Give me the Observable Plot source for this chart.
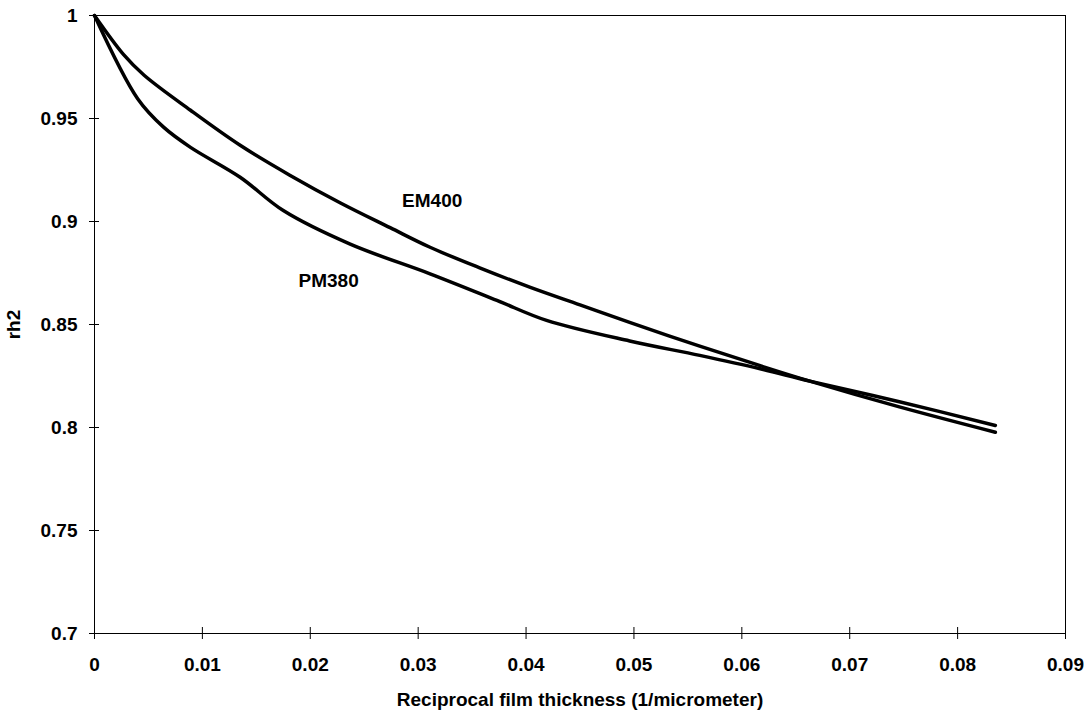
<!DOCTYPE html>
<html>
<head>
<meta charset="utf-8">
<script src="https://cdn.jsdelivr.net/npm/d3@7"></script>
<script src="https://cdn.jsdelivr.net/npm/@observablehq/plot@0.6"></script>
<style>
  html, body { margin: 0; padding: 0; background: #fff; }
  #chart { width: 1088px; height: 712px; }
</style>
</head>
<body>
<div id="chart"></div>
<script>
// Data
const emX = [0, 0.0027, 0.0046, 0.0089, 0.0135, 0.0181, 0.0228, 0.0274, 0.0311, 0.0357, 0.0404, 0.045, 0.0496, 0.0561, 0.0617, 0.0663, 0.0746, 0.0835];
const emY = [1, 0.981, 0.971, 0.954, 0.937, 0.9225, 0.909, 0.897, 0.8875, 0.8775, 0.868, 0.8595, 0.851, 0.8395, 0.830, 0.8225, 0.810, 0.7977];
const pmX = [0, 0.0040, 0.0064, 0.0089, 0.0135, 0.0175, 0.0237, 0.0311, 0.0373, 0.0419, 0.0496, 0.0561, 0.0617, 0.0663, 0.0746, 0.0835];
const pmY = [1, 0.9596, 0.9458, 0.936, 0.9215, 0.9053, 0.889, 0.8746, 0.8617, 0.852, 0.842, 0.835, 0.8285, 0.8225, 0.8125, 0.801];

const labelNames = ["EM400", "PM380"];
const labelX = [0.0313, 0.0217];
const labelY = [0.910, 0.871];

const xTicks = [0, 0.01, 0.02, 0.03, 0.04, 0.05, 0.06, 0.07, 0.08, 0.09];
const xTickLabels = ["0", "0.01", "0.02", "0.03", "0.04", "0.05", "0.06", "0.07", "0.08", "0.09"];
const yTicks = [0.7, 0.75, 0.8, 0.85, 0.9, 0.95, 1];
const yTickLabels = ["0.7", "0.75", "0.8", "0.85", "0.9", "0.95", "1"];

const xLabel = "Reciprocal film thickness (1/micrometer)";
const yLabel = "rh2";

const em = emX.map((x, i) => ({x, y: emY[i]}));
const pm = pmX.map((x, i) => ({x, y: pmY[i]}));
const labels = labelNames.map((name, i) => ({name, x: labelX[i], y: labelY[i]}));

const fmtX = (d) => xTickLabels[xTicks.findIndex(t => Math.abs(t - d) < 1e-9)];
const fmtY = (d) => yTickLabels[yTicks.findIndex(t => Math.abs(t - d) < 1e-9)];

const chart = Plot.plot({
  width: 1088,
  height: 712,
  marginLeft: 94,
  marginRight: 23,
  marginTop: 15,
  marginBottom: 79,
  style: {
    fontFamily: "'Liberation Sans', Arial, sans-serif",
    fontSize: "19px",
    fontWeight: "bold",
    color: "black",
    background: "white"
  },
  x: { domain: [0, 0.09] },
  y: { domain: [0.7, 1] },
  marks: [
    Plot.frame({stroke: "black", strokeWidth: 1}),
    // tick marks crossing the axes
    Plot.axisX({ticks: xTicks, tickSize: 12, dy: -6, text: null, label: null}),
    Plot.axisY({ticks: yTicks, tickSize: 10, dx: 5, text: null, label: null}),
    // tick labels and titles
    Plot.axisX({ticks: xTicks, tickSize: 0, tickPadding: 24, tickFormat: fmtX, fontSize: 19,
      label: xLabel, labelAnchor: "center", labelArrow: "none", labelOffset: 72}),
    Plot.axisY({ticks: yTicks, tickSize: 0, tickPadding: 17, tickFormat: fmtY, fontSize: 19,
      label: yLabel, labelAnchor: "center", labelArrow: "none", labelOffset: 88}),
    Plot.line(em, {x: "x", y: "y", stroke: "black", strokeWidth: 3.5, curve: "catmull-rom", strokeLinejoin: "round"}),
    Plot.line(pm, {x: "x", y: "y", stroke: "black", strokeWidth: 3.5, curve: "catmull-rom", strokeLinejoin: "round"}),
    Plot.text(labels, {x: "x", y: "y", text: "name", fontSize: 19, fontWeight: "bold", fill: "black"})
  ]
});
document.getElementById("chart").appendChild(chart);
</script>
</body>
</html>
